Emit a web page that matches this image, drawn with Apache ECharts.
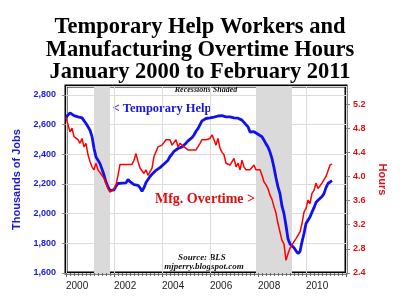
<!DOCTYPE html>
<html>
<head>
<meta charset="utf-8">
<script src="https://cdn.jsdelivr.net/npm/echarts@6/dist/echarts.min.js"></script>
<style>html,body{margin:0;padding:0;background:#fff}#c{width:400px;height:308px}</style>
</head>
<body>
<div id="c"></div>
<script>
// Monthly data, January 2000 .. February 2011
const startMonth = '2000-01';
// Temporary help workers, thousands of jobs (left axis)
const tempHelp = [
  2647,2665,2679,2668,2660,2655,2652,2647,2645,2636,2607,2585,
  2562,2520,2440,2382,2360,2337,2300,2260,2213,2180,2155,2150,
  2160,2185,2203,2209,2205,2200,2207,2230,2215,2203,2195,2191,
  2191,2175,2150,2175,2210,2230,2250,2265,2278,2292,2300,2310,
  2322,2335,2345,2360,2385,2400,2420,2432,2439,2445,2449,2460,
  2475,2490,2495,2512,2530,2555,2573,2600,2625,2635,2641,2641,
  2645,2652,2650,2660,2658,2663,2660,2655,2652,2650,2652,2648,
  2645,2641,2643,2641,2630,2615,2607,2585,2550,2540,2552,2548,
  2535,2525,2518,2495,2470,2449,2415,2370,2310,2240,2180,2135,
  2050,2000,1920,1830,1795,1785,1770,1750,1731,1745,1810,1866,
  1933,1955,1977,2010,2040,2075,2090,2101,2115,2135,2175,2203,
  2210,2222
];
// Manufacturing overtime hours (right axis)
const mfgOvertime = [
  4.98,4.86,4.74,4.80,4.66,4.69,4.61,4.55,4.63,4.49,4.55,4.36,
  4.25,4.16,4.11,4.22,4.11,4.14,4.02,3.97,3.89,3.80,3.74,3.77,
  3.80,3.86,4.02,4.20,4.20,4.20,4.20,4.20,4.20,4.20,4.27,4.38,
  4.25,4.14,4.11,4.05,4.11,4.02,4.08,4.14,4.33,4.36,4.49,4.52,
  4.52,4.52,4.61,4.61,4.61,4.52,4.52,4.61,4.49,4.55,4.55,4.49,
  4.49,4.44,4.44,4.44,4.44,4.44,4.44,4.55,4.61,4.61,4.61,4.61,
  4.63,4.69,4.61,4.52,4.63,4.47,4.40,4.36,4.22,4.19,4.19,4.19,
  4.30,4.16,4.22,4.11,4.27,4.16,4.11,4.11,4.11,4.11,4.19,4.11,
  4.11,4.11,4.02,3.91,3.86,3.80,3.69,3.62,3.50,3.39,3.22,3.08,
  2.94,2.88,2.61,2.72,2.81,2.84,2.92,2.97,3.00,3.08,3.22,3.41,
  3.47,3.61,3.55,3.72,3.77,3.89,3.80,3.80,3.89,3.92,4.00,4.02,
  4.19,4.21
];
// Recessions (NBER), start and end months
const recessionStarts = ['2001-03','2007-12'];
const recessionEnds   = ['2001-11','2009-06'];
// Axis ticks
const leftTicks = [1600,1800,2000,2200,2400,2600,2800];
const rightTicks = [2.4,2.8,3.2,3.6,4.0,4.4,4.8,5.2];
const yearLabels = [2000,2002,2004,2006,2008,2010];

function ym(s){ const p = s.split('-'); return +p[0] + (+p[1]-1)/12; }
const x0 = ym(startMonth);
const blueData = tempHelp.map((v,i)=>[x0 + i/12, v]);
const redData = mfgOvertime.map((v,i)=>[x0 + i/12, v]);
const areas = recessionStarts.map((s,i)=>[{xAxis: ym(s)},{xAxis: ym(recessionEnds[i])}]);

const chart = echarts.init(document.getElementById('c'), null, {renderer:'canvas'});
const serif = '"Liberation Serif", "Times New Roman", serif';
const sans = '"Liberation Sans", Arial, sans-serif';
chart.setOption({
  animation:false,
  backgroundColor:'#fff',
  title:{
    text:'Temporary Help Workers and\nManufacturing Overtime Hours\nJanuary 2000 to February 2011',
    left:'center', top:16, padding:0,
    textStyle:{fontFamily:serif, fontWeight:'bold', fontSize:22.5, lineHeight:22.5, color:'#000'}
  },
  grid:{left:66, right:54, top:86, bottom:35, show:true, borderColor:'#000', borderWidth:3, backgroundColor:'transparent'},
  xAxis:{
    type:'value', min:2000, max:2011.667, interval:2,
    axisLine:{show:false},
    axisTick:{show:true, length:4, lineStyle:{color:'#666'}},
    minorTick:{show:true, splitNumber:12, length:3, lineStyle:{color:'#666'}},
    splitLine:{show:true, lineStyle:{color:'#dcdcdc', width:1}},
    axisLabel:{
      margin:8, align:'left', color:'#222', fontFamily:sans, fontSize:10,
      showMaxLabel:false,
      formatter:function(v){ return yearLabels.indexOf(Math.round(v))>=0 && Math.abs(v-Math.round(v))<1e-6 ? String(Math.round(v)) : ''; }
    }
  },
  yAxis:[{
    type:'value', min:1600, max:2860, interval:200, position:'left',
    name:'Thousands of Jobs', nameLocation:'middle', nameGap:37, nameRotate:90,
    nameTextStyle:{color:'#1a1ad6', fontFamily:sans, fontWeight:'bold', fontSize:11},
    axisLine:{show:false},
    axisTick:{show:true, length:4, lineStyle:{color:'#888'}},
    splitLine:{show:true, lineStyle:{color:'#dcdcdc', width:1}},
    axisLabel:{
      margin:10, color:'#1a1ad6', fontFamily:sans, fontWeight:'bold', fontSize:9, showMaxLabel:false,
      formatter:function(v){ return leftTicks.indexOf(v)>=0 ? v.toLocaleString('en-US') : ''; }
    }
  },{
    type:'value', min:2.4, max:5.5, interval:0.4, position:'right',
    name:'Hours', nameLocation:'middle', nameGap:25, nameRotate:-90,
    nameTextStyle:{color:'#e01010', fontFamily:sans, fontWeight:'bold', fontSize:11},
    axisLine:{show:false},
    axisTick:{show:true, length:4, lineStyle:{color:'#888'}},
    splitLine:{show:false},
    axisLabel:{
      margin:7, color:'#e01010', fontFamily:sans, fontWeight:'bold', fontSize:9, showMaxLabel:false,
      formatter:function(v){ const r = Math.round(v*10)/10; return rightTicks.indexOf(r)>=0 ? r.toFixed(1) : ''; }
    }
  }],
  series:[{
    name:'Temporary Help', type:'line', yAxisIndex:0, data:blueData, showSymbol:false,
    lineStyle:{color:'#1010f0', width:2.8}, z:3,
    markArea:{silent:true, itemStyle:{color:'#dadada'}, data:areas}
  },{
    name:'Mfg. Overtime', type:'line', yAxisIndex:1, data:redData, showSymbol:false,
    lineStyle:{color:'#ff0000', width:1.5}, z:4
  }],
  graphic:[
    {type:'text', position:[206,86], style:{text:'Recessions Shaded', font:'italic bold 8px '+serif, fill:'#111', align:'center'}},
    {type:'text', position:[162,109], style:{text:'< Temporary Help', font:'bold 12.5px '+serif, fill:'#1515e0', align:'center', verticalAlign:'middle'}},
    {type:'text', position:[205,199], style:{text:'Mfg. Overtime >', font:'bold 14px '+serif, fill:'#e01010', align:'center', verticalAlign:'middle'}},
    {type:'text', position:[202,258], style:{text:'Source: BLS', font:'italic bold 9px '+serif, fill:'#111', align:'center', verticalAlign:'middle'}},
    {type:'text', position:[204,267], style:{text:'mjperry.blogspot.com', font:'italic bold 9px '+serif, fill:'#111', align:'center', verticalAlign:'middle'}}
  ]
});
</script>
</body>
</html>
